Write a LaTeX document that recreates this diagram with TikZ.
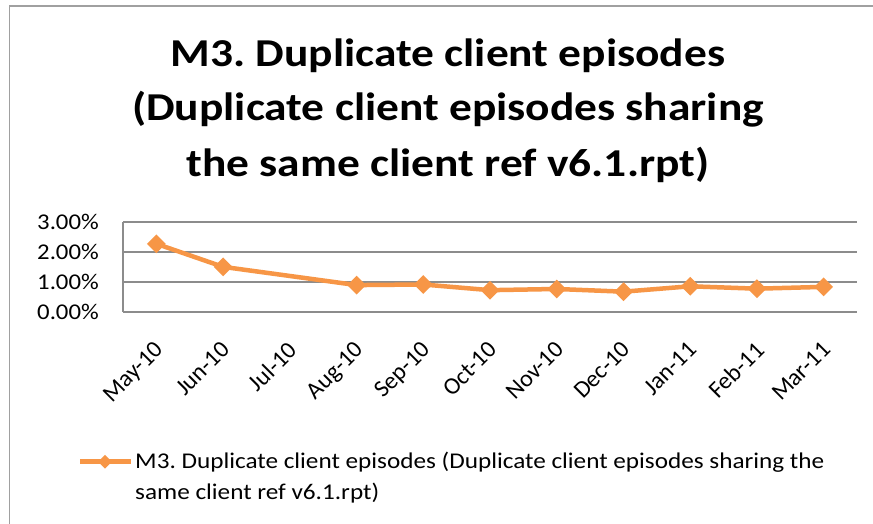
\documentclass[tikz,border=0pt]{standalone}
\usepackage{fontspec}
\setmainfont{Carlito}
\frenchspacing
\usetikzlibrary{shapes.geometric}
\definecolor{seriesorange}{HTML}{F79646}
\definecolor{gridgray}{HTML}{8C8C8C}
\definecolor{framegray}{HTML}{A0A0A0}
\tikzset{
  gridline/.style={draw=gridgray, line width=1.6pt},
  serieslink/.style={draw=seriesorange, line width=4.5pt, line join=round},
  marker/.style={diamond, fill=seriesorange, draw=none, inner sep=0pt,
                 minimum width=19pt, minimum height=19pt},
  ylabel/.style={anchor=east, inner sep=0pt, xscale=1.1,
                 font=\fontsize{22.5}{22.5}\selectfont},
  xlabel/.style={anchor=north east, rotate=45, inner sep=0pt,
                 font=\fontsize{24}{24}\selectfont},
  titleline/.style={anchor=base, inner sep=0pt, xscale=1.15,
                    font=\fontsize{39.5}{39.5}\selectfont\bfseries},
}
\begin{document}
\begin{tikzpicture}[x=1pt, y=-1pt]
  \useasboundingbox (0,0) rectangle (873,524);
  \fill[white] (0,0) rectangle (873,524);
  \clip (0,0) rectangle (873,524);
  % chart frame (runs off the right and bottom edges)
  \draw[framegray, line width=1.5pt] (9.5,6) rectangle (890,540);

  % title
  \node[titleline] (t1) at (448,66.5) {M3. Duplicate client episodes};
  \node[titleline] (t2) at (448,121) {(Duplicate client episodes sharing};
  \node[titleline] (t3) at (448,176.5) {the same client ref v6.1.rpt)};

  % plot area: gridlines and value axis
  \coordinate (g0l) at (123,311.7); \coordinate (g0r) at (857,311.7);
  \coordinate (g1l) at (123,281.8); \coordinate (g1r) at (857,281.8);
  \coordinate (g2l) at (123,251.9); \coordinate (g2r) at (857,251.9);
  \coordinate (g3l) at (123,222.0); \coordinate (g3r) at (857,222.0);
  \draw[gridline] (g3l) -- (g3r);
  \draw[gridline] (g2l) -- (g2r);
  \draw[gridline] (g1l) -- (g1r);
  \draw[gridline] (g0l) -- (g0r);
  \draw[gridline] (g3l) -- (g0l);

  % value axis labels
  \node[ylabel] (y3) at (99,222.0) {3.00\%};
  \node[ylabel] (y2) at (99,251.9) {2.00\%};
  \node[ylabel] (y1) at (99,281.8) {1.00\%};
  \node[ylabel] (y0) at (99,311.7) {0.00\%};

  % category axis labels
  \foreach \lab [count=\i from 0] in
     {May-10,Jun-10,Jul-10,Aug-10,Sep-10,Oct-10,Nov-10,Dec-10,Jan-11,Feb-11,Mar-11}
    \node[xlabel] (x\i) at ({123+66.73*(\i+0.5)-3},340) {\lab};

  % data points (no value for Jul-10)
  \coordinate (pMay) at (156.4,{311.7-29.9*2.27});
  \coordinate (pJun) at (223.1,{311.7-29.9*1.50});
  \coordinate (pAug) at (356.6,{311.7-29.9*0.89});
  \coordinate (pSep) at (423.3,{311.7-29.9*0.91});
  \coordinate (pOct) at (490.0,{311.7-29.9*0.72});
  \coordinate (pNov) at (556.7,{311.7-29.9*0.76});
  \coordinate (pDec) at (623.5,{311.7-29.9*0.67});
  \coordinate (pJan) at (690.2,{311.7-29.9*0.85});
  \coordinate (pFeb) at (756.9,{311.7-29.9*0.77});
  \coordinate (pMar) at (823.6,{311.7-29.9*0.83});

  \draw[serieslink] (pMay) -- (pJun) -- (pAug) -- (pSep) -- (pOct) -- (pNov)
                    -- (pDec) -- (pJan) -- (pFeb) -- (pMar);
  \foreach \m in {May,Jun,Aug,Sep,Oct,Nov,Dec,Jan,Feb,Mar}
    \node[marker] (m\m) at (p\m) {};

  % legend
  \coordinate (legA) at (80,461.7);
  \coordinate (legB) at (131,461.7);
  \draw[serieslink] (legA) -- (legB);
  \node[marker, minimum width=14pt, minimum height=14pt] (legM) at (105,461.7) {};
  \node[anchor=base west, inner sep=0pt, align=left, xscale=1.12,
        font=\fontsize{22.5}{31.5}\selectfont] (legT) at (135,499.5)
    {M3. Duplicate client episodes (Duplicate client episodes sharing the\\
     same client ref v6.1.rpt)};
\end{tikzpicture}
\end{document}
